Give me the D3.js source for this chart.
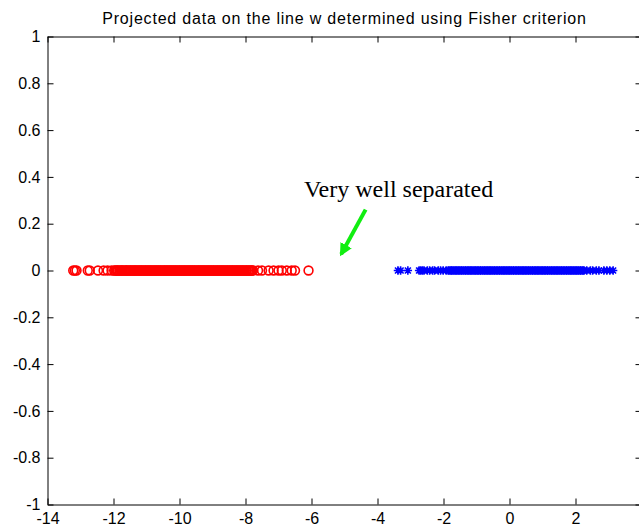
<!DOCTYPE html>
<html>
<head>
<meta charset="utf-8">
<script src="https://cdn.jsdelivr.net/npm/d3@7"></script>
<style>
  body { margin: 0; background: #fff; }
  svg text { font-family: Arial, "Liberation Sans", Helvetica, sans-serif; }
</style>
</head>
<body>
<div id="chart"></div>
<script>
// projected values of class 1 (red circles) along w
var class1X = [
  -13.22, -13.17, -13.12, -12.78, -12.72, -12.47, -12.30, -12.18, -12.06,
  -11.98, -11.95, -11.91, -11.88, -11.86, -11.82, -11.78, -11.75, -11.73, -11.69,
  -11.65, -11.62, -11.60, -11.56, -11.53, -11.49, -11.47, -11.43, -11.40, -11.36,
  -11.34, -11.31, -11.27, -11.24, -11.21, -11.17, -11.15, -11.11, -11.08, -11.04,
  -11.02, -10.98, -10.95, -10.92, -10.88, -10.86, -10.82, -10.79, -10.75, -10.73,
  -10.69, -10.66, -10.63, -10.59, -10.57, -10.53, -10.50, -10.46, -10.44, -10.40,
  -10.37, -10.34, -10.30, -10.28, -10.24, -10.21, -10.18, -10.14, -10.12, -10.08,
  -10.05, -10.01, -9.99, -9.95, -9.92, -9.89, -9.85, -9.83, -9.79, -9.76,
  -9.72, -9.70, -9.66, -9.63, -9.60, -9.56, -9.54, -9.50, -9.47, -9.43,
  -9.41, -9.37, -9.34, -9.31, -9.27, -9.25, -9.21, -9.18, -9.14, -9.12,
  -9.08, -9.05, -9.02, -8.98, -8.96, -8.92, -8.89, -8.85, -8.83, -8.79,
  -8.76, -8.73, -8.69, -8.67, -8.63, -8.60, -8.56, -8.54, -8.50, -8.47,
  -8.44, -8.40, -8.38, -8.34, -8.31, -8.27, -8.25, -8.21, -8.18, -8.15,
  -8.11, -8.09, -8.05, -8.02, -7.98, -7.96, -7.92, -7.89, -7.86, -7.82,
  -7.80, -7.77,
  -7.62, -7.50, -7.30, -7.15, -7.00, -6.90, -6.75, -6.60, -6.50, -6.09
];
// projected values of class 2 (blue stars)
var class2X = [
  -3.38, -3.30, -3.08, -2.74, -2.69, -2.64, -2.59, -2.49, -2.42, -2.33,
  -2.27, -2.16, -2.09, -2.01, -1.92,
  -1.86, -1.83, -1.79, -1.76, -1.74, -1.70, -1.67, -1.63, -1.61, -1.57,
  -1.54, -1.51, -1.47, -1.45, -1.41, -1.38, -1.34, -1.32, -1.28, -1.25,
  -1.22, -1.18, -1.16, -1.12, -1.09, -1.05, -1.03, -0.99, -0.96, -0.93,
  -0.89, -0.87, -0.83, -0.80, -0.76, -0.74, -0.70, -0.67, -0.64, -0.60,
  -0.58, -0.54, -0.51, -0.47, -0.45, -0.41, -0.38, -0.35, -0.31, -0.29,
  -0.25, -0.22, -0.18, -0.16, -0.12, -0.09, -0.06, -0.02, 0.00, 0.04,
  0.07, 0.11, 0.13, 0.17, 0.20, 0.23, 0.27, 0.29, 0.33, 0.36,
  0.40, 0.42, 0.46, 0.49, 0.52, 0.56, 0.58, 0.62, 0.65, 0.69,
  0.71, 0.75, 0.78, 0.81, 0.85, 0.87, 0.91, 0.94, 0.98, 1.00,
  1.04, 1.07, 1.10, 1.14, 1.16, 1.20, 1.23, 1.27, 1.29, 1.33,
  1.36, 1.39, 1.43, 1.45, 1.49, 1.52, 1.56, 1.58, 1.62, 1.65,
  1.68, 1.72, 1.74, 1.78, 1.81, 1.85, 1.87, 1.91, 1.94, 1.97,
  2.01, 2.03, 2.07, 2.10, 2.14, 2.16, 2.20, 2.23, 2.26,
  2.34, 2.45, 2.52, 2.63, 2.71, 2.86, 2.95, 3.04, 3.14
];
// all points sit on the line, so y is 0
var projY = 0;

var xTicks = [-14, -12, -10, -8, -6, -4, -2, 0, 2, 4];
// the "4" label falls outside the cropped picture
var xTickLabels = ["-14", "-12", "-10", "-8", "-6", "-4", "-2", "0", "2", ""];
var yTicks = [-1, -0.8, -0.6, -0.4, -0.2, 0, 0.2, 0.4, 0.6, 0.8, 1];
var yTickLabels = ["-1", "-0.8", "-0.6", "-0.4", "-0.2", "0", "0.2", "0.4", "0.6", "0.8", "1"];

var titleText = "Projected data on the line w determined using Fisher criterion";
var noteText = "Very well separated";
// annotation position in data units: text start, arrow tail, arrow tip
var noteAt = [-6.23, 0.315];
var arrowFrom = [-4.36, 0.26];
var arrowTo = [-5.1, 0.07];

var width = 639, height = 531;
var margin = {top: 36.5, right: -2.5, bottom: 26.5, left: 47.5};

var x = d3.scaleLinear().domain([-14, 4]).range([margin.left, width - margin.right]);
var y = d3.scaleLinear().domain([-1, 1]).range([height - margin.bottom, margin.top]);

var svg = d3.select("#chart").append("svg")
    .attr("width", width)
    .attr("height", height)
    .style("display", "block");

svg.append("rect").attr("width", width).attr("height", height).attr("fill", "#fff");

// axes with ticks pointing inward (matlab box style)
function fmt(labels, ticks) {
  return function(d) { return labels[ticks.indexOf(d)]; };
}
svg.append("g")
    .attr("transform", "translate(0," + y(-1) + ")")
    .call(d3.axisBottom(x).tickValues(xTicks).tickFormat(fmt(xTickLabels, xTicks))
      .tickSizeInner(-6).tickSizeOuter(0).tickPadding(8));
svg.append("g")
    .attr("transform", "translate(" + x(-14) + ",0)")
    .call(d3.axisLeft(y).tickValues(yTicks).tickFormat(fmt(yTickLabels, yTicks))
      .tickSizeInner(-6).tickSizeOuter(0).tickPadding(7));
svg.append("g")
    .attr("transform", "translate(0," + y(1) + ")")
    .call(d3.axisTop(x).tickValues(xTicks).tickFormat("").tickSizeInner(-6).tickSizeOuter(0));
svg.append("g")
    .attr("transform", "translate(" + x(4) + ",0)")
    .call(d3.axisRight(y).tickValues(yTicks).tickFormat("").tickSizeInner(-6).tickSizeOuter(0));

svg.selectAll(".domain").attr("stroke", "#000");
svg.selectAll(".tick line").attr("stroke", "#000");
svg.selectAll(".tick text")
    .attr("fill", "#000")
    .attr("font-size", "16px")
    .style("font-family", "Arial, 'Liberation Sans', sans-serif");

// red circles
svg.append("g").selectAll("circle")
    .data(class1X)
    .enter().append("circle")
    .attr("cx", function(d) { return x(d); })
    .attr("cy", y(projY))
    .attr("r", 4.4)
    .attr("fill", "none")
    .attr("stroke", "#ff0000")
    .attr("stroke-width", 1.6);

// blue stars
var star = "M-4.2,0H4.2M0,-4.2V4.2M-3,-3L3,3M-3,3L3,-3";
svg.append("g").selectAll("path")
    .data(class2X)
    .enter().append("path")
    .attr("d", star)
    .attr("transform", function(d) { return "translate(" + x(d) + "," + y(projY) + ")"; })
    .attr("fill", "none")
    .attr("stroke", "#0000ff")
    .attr("stroke-width", 1.6);

// title
svg.append("text")
    .attr("x", (x(-14) + x(4)) / 2)
    .attr("y", 24)
    .attr("text-anchor", "middle")
    .attr("font-size", "16px")
    .attr("letter-spacing", "0.8px")
    .attr("fill", "#000")
    .text(titleText);

// annotation
svg.append("text")
    .attr("x", x(noteAt[0]))
    .attr("y", y(noteAt[1]))
    .attr("font-size", "24px")
    .style("font-family", "'Times New Roman', 'Liberation Serif', serif")
    .attr("fill", "#000")
    .text(noteText);

var defs = svg.append("defs");
defs.append("marker")
    .attr("id", "head")
    .attr("viewBox", "0 0 10 10")
    .attr("refX", 8).attr("refY", 5)
    .attr("markerWidth", 3.2).attr("markerHeight", 3.2)
    .attr("orient", "auto")
    .append("path")
    .attr("d", "M0,0L10,5L0,10Z")
    .attr("fill", "#11ee11");

svg.append("line")
    .attr("x1", x(arrowFrom[0])).attr("y1", y(arrowFrom[1]))
    .attr("x2", x(arrowTo[0])).attr("y2", y(arrowTo[1]))
    .attr("stroke", "#11ee11")
    .attr("stroke-width", 4)
    .attr("marker-end", "url(#head)");
</script>
</body>
</html>
